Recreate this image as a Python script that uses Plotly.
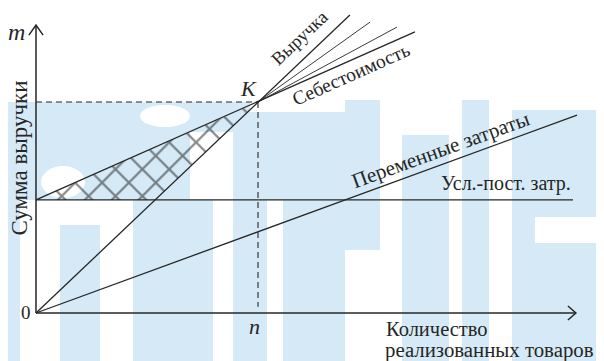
import plotly.graph_objects as go

# values (abstract units: n = 100, K = 100)
fixed_cost = 53.6
break_even = [100, 100]          # point K: (n, сумма)
revenue_x = [0, 141.4]
revenue_y = [0, 141.2]
cost_x = [0, 170.7]
cost_y = [53.6, 133.2]
fan_x = [[100, 150.5], [100, 162.6]]
fan_y = [[100, 137.9], [100, 135.5]]
variable_x = [0, 243.7]
variable_y = [0, 93.8]
fixed_x = [0, 241.9]
x_axis_end = 243.2
y_axis_end = 136.5

LINE = "#262626"
FONT = "Liberation Serif"
WATERMARK = "#d5eaf6"

fig = go.Figure()


def add_line(xs, ys, width=1.3, dash=None):
    fig.add_trace(go.Scatter(x=xs, y=ys, mode="lines",
                             line=dict(color=LINE, width=width, dash=dash),
                             hoverinfo="skip", showlegend=False))


# hatched zone of losses
rev_at_fixed = fixed_cost * revenue_x[1] / revenue_y[1]
fig.add_trace(go.Scatter(
    x=[0, break_even[0], rev_at_fixed, 0],
    y=[fixed_cost, break_even[1], fixed_cost, fixed_cost],
    mode="lines", line=dict(width=0), fill="toself",
    fillcolor="rgba(0,0,0,0)",
    fillpattern=dict(shape="x", size=19, solidity=0.22,
                     fgcolor="#111111", bgcolor="rgba(0,0,0,0)"),
    hoverinfo="skip", showlegend=False))

# axes
add_line([0, 0], [0, y_axis_end], width=1.5)
add_line([0, x_axis_end], [0, 0], width=1.5)
add_line([-3.2, 0, 3.2], [y_axis_end - 4.8, y_axis_end, y_axis_end - 4.8], width=1.5)
add_line([x_axis_end - 3.6, x_axis_end, x_axis_end - 3.6], [3.3, 0, -3.3], width=1.5)

# dashed guides to K
add_line([0, break_even[0]], [break_even[1], break_even[1]], width=1.1, dash="6px,4px")
add_line([break_even[0], break_even[0]], [break_even[1], 3], width=1.1, dash="6px,4px")

add_line(revenue_x, revenue_y)
add_line(cost_x, cost_y)
for fx, fy in zip(fan_x, fan_y):
    add_line(fx, fy, width=0.9)
add_line(variable_x, variable_y)
add_line(fixed_x, [fixed_cost, fixed_cost])


def label(text, x, y, size=18, angle=0, italic=False, xanchor="center"):
    font = dict(family=FONT, size=size, color=LINE)
    if italic:
        font["style"] = "italic"
    fig.add_annotation(x=x, y=y, text=text, showarrow=False, textangle=angle,
                       xanchor=xanchor, yanchor="middle", font=font)


label("Выручка", 118.8, 130.3, size=18.5, angle=-43.5)
label("Себестоимость", 141.9, 112.8, size=19.5, angle=-24)
label("Переменные затраты", 182.0, 77.3, size=21, angle=-20)
label("Усл.-пост. затр.", 241.9, 61.6, size=20, xanchor="right")
label("K", 95.9, 106.2, size=22, italic=True)
label("m", -9.0, 133.0, size=24, italic=True)
label("n", 98.6, -6.6, size=22, italic=True)
label("0", -4.3, 0.3, size=19)
label("Количество", 156.8, -7.6, size=20.5, xanchor="left")
label("реализованных товаров", 156.4, -17.5, size=20.8, xanchor="left")
label("Сумма выручки", -7.4, 73.5, size=23, angle=-90)

# faint watermark behind the drawing, in reference pixels (x0, y0, x1, y1)
bands = [(0, 102, 190, 200), (190, 102, 233, 132), (233, 102, 250, 200),
         (0, 200, 20, 361), (60, 225, 100, 361), (133, 200, 213, 361),
         (233, 200, 267, 361), (250, 112, 283, 200), (283, 112, 345, 361),
         (345, 100, 380, 250), (402, 135, 449, 361), (462, 100, 489, 361),
         (512, 110, 604, 217), (512, 243, 604, 361), (512, 217, 535, 243)]
holes = [(41, 166, 85, 198), (140, 105, 190, 127)]


def px_shape(x0, y0, x1, y1, color, kind="rect"):
    fig.add_shape(type=kind, xref="paper", yref="paper", layer="below",
                  x0=(x0 - 8) / 604, x1=(x1 - 8) / 604,
                  y0=1 - (y1 - 8) / 361, y1=1 - (y0 - 8) / 361,
                  fillcolor=color, line=dict(width=0))


for b in bands:
    px_shape(*b, WATERMARK)
for h in holes:
    px_shape(*h, "white", kind="circle")

# the page body keeps an 8px margin, so the ranges are shifted by 8px
fig.update_layout(
    width=604, height=361,
    margin=dict(l=0, r=0, t=0, b=0),
    font=dict(family=FONT, color=LINE),
    paper_bgcolor="white", plot_bgcolor="rgba(0,0,0,0)",
    xaxis=dict(range=[-12.61, 259.46], visible=False, fixedrange=True),
    yaxis=dict(range=[-26.54, 144.55], visible=False, fixedrange=True),
)

fig.write_html("out.html")
